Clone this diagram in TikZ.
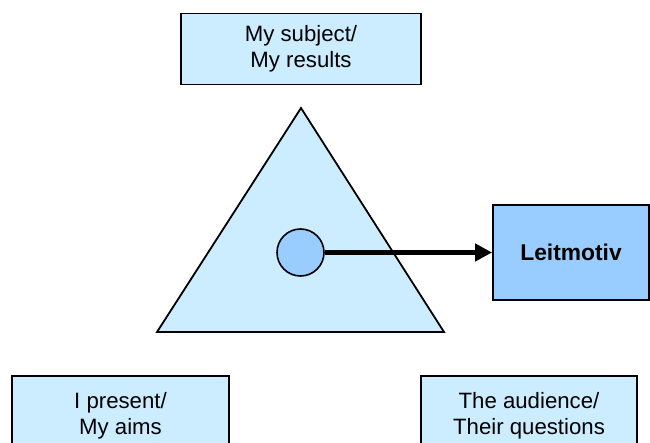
\documentclass[tikz,border=0pt]{standalone}
\usepackage{fontspec}
\setmainfont{Liberation Sans}
\usetikzlibrary{arrows.meta}
\definecolor{lightfill}{HTML}{CCECFF}
\definecolor{darkfill}{HTML}{99CCFF}
\tikzset{
  box/.style={draw=black, line width=1.8pt, fill=lightfill, rectangle, inner sep=0pt,
    align=center, font=\fontsize{22.2}{26}\selectfont},
  keybox/.style={box, fill=darkfill, font=\fontsize{22.8}{26}\selectfont\bfseries},
  tri/.style={draw=black, line width=1.8pt, fill=lightfill, line join=miter},
  dot/.style={draw=black, line width=1.6pt, fill=darkfill, circle, inner sep=0pt, minimum size=47pt},
  bigarrow/.style={line width=5pt, -{Triangle[length=17pt, width=17pt]}, shorten >=0pt}
}
\begin{document}
\begin{tikzpicture}[x=1pt, y=-1pt]
\useasboundingbox (0,0) rectangle (650,443);
\clip (0,0) rectangle (650,443);
% top box
\node[box, minimum width=240pt, minimum height=71pt] (subj) at (301,49) {My subject/\\My results};
% triangle
\coordinate (apex) at (301,108);
\coordinate (bl) at (157,332);
\coordinate (br) at (444,332);
\draw[tri] (apex) -- (bl) -- (br) -- cycle;
% leitmotiv
\node[keybox, minimum width=156pt, minimum height=95pt] (leit) at (571,252.5) {Leitmotiv};
% circle
\node[dot] (c) at (300.5,252.5) {};
\draw[bigarrow] (c.east) -- (leit.west);
% bottom boxes
\node[box, minimum width=217pt, minimum height=80pt] (pres) at (120.5,416) {I present/\\My aims};
\node[box, minimum width=216pt, minimum height=80pt] (aud) at (529,416) {The audience/\\Their questions};
\end{tikzpicture}
\end{document}
